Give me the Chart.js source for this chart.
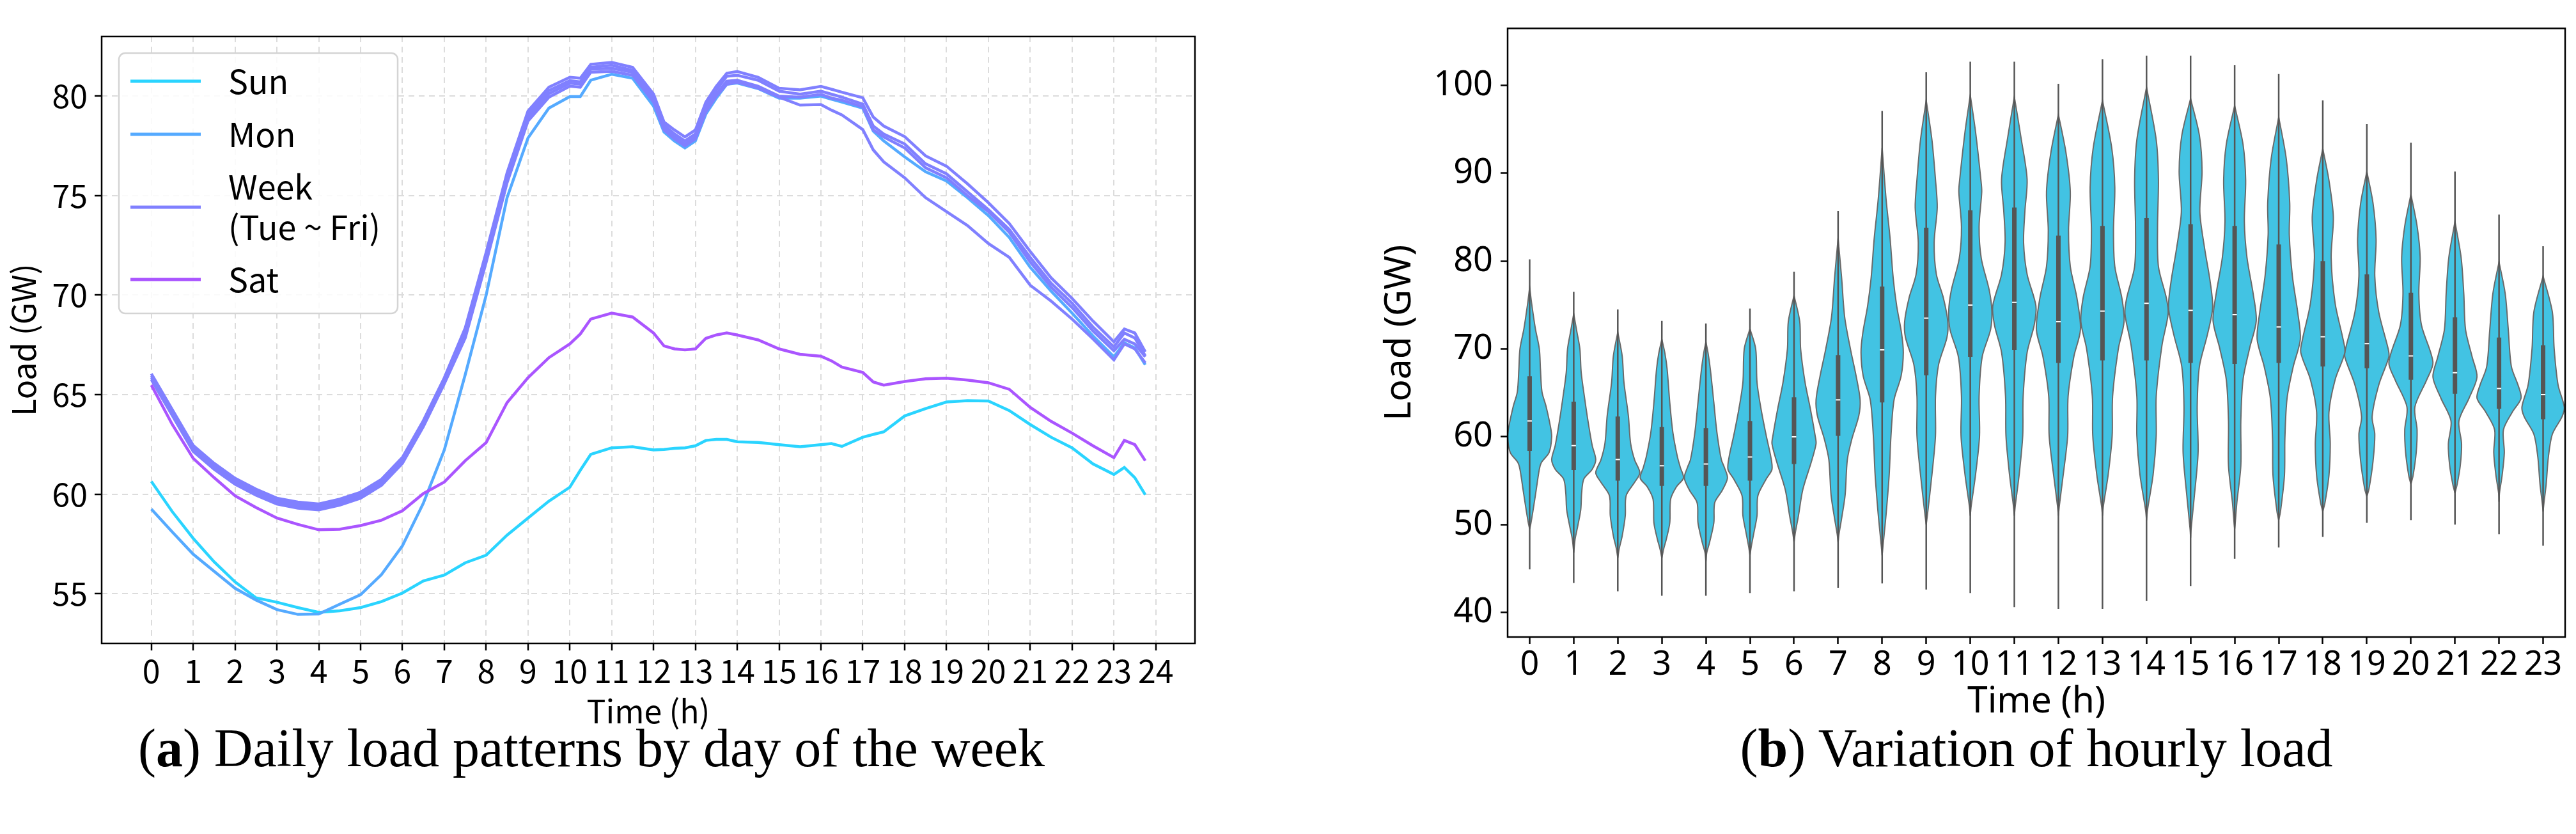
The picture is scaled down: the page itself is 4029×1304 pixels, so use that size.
<!DOCTYPE html>
<html><head><meta charset="utf-8">
<script src="https://cdn.jsdelivr.net/npm/chart.js@4.4.0/dist/chart.umd.min.js"></script>
<style>
html,body{margin:0;padding:0;background:#fff;width:4029px;height:1304px;overflow:hidden;}
#wa{position:absolute;left:0;top:0;width:1900px;height:1160px;}
#wb{position:absolute;left:2130px;top:0;width:1899px;height:1160px;}
.cap{position:absolute;top:1120px;line-height:100px;font-family:'Liberation Serif',serif;font-size:84px;color:#000;white-space:nowrap;transform:translateX(-50%);}
</style></head><body>
<div id="wa"><canvas id="ca"></canvas></div>
<div id="wb"><canvas id="cb"></canvas></div>
<div class="cap" style="left:925px">(<b>a</b>) Daily load patterns by day of the week</div>
<div class="cap" style="left:3185px">(<b>b</b>) Variation of hourly load</div>
<script>
// ---------- Panel (a) data ----------
const times = [0,0.5,1,1.5,2,2.5,3,3.5,4,4.5,5,5.5,6,6.5,7,7.5,8,8.5,9,9.5,10,10.25,10.5,11,11.5,12,12.25,12.5,12.75,13,13.25,13.5,13.75,14,14.5,15,15.5,16,16.25,16.5,17,17.25,17.5,18,18.5,19,19.5,20,20.5,21,21.5,22,22.5,23,23.25,23.5,23.75];
const sunLoad = [60.64,59.12,57.78,56.6,55.59,54.79,54.57,54.3,54.06,54.14,54.3,54.6,55.03,55.64,55.93,56.55,56.93,57.94,58.8,59.65,60.35,61.2,62.0,62.33,62.38,62.22,62.25,62.3,62.33,62.43,62.7,62.75,62.75,62.63,62.6,62.49,62.38,62.49,62.54,62.4,62.86,63.0,63.13,63.93,64.3,64.63,64.7,64.68,64.2,63.5,62.86,62.33,61.52,60.99,61.34,60.83,59.97];
const monLoad = [59.25,58.1,56.98,56.12,55.27,54.68,54.2,53.96,53.98,54.47,54.95,55.96,57.41,59.55,62.22,66.0,70.0,74.9,77.9,79.4,79.98,79.98,80.8,81.1,80.9,79.5,78.2,77.75,77.4,77.75,79.1,79.9,80.6,80.66,80.38,79.9,79.9,80.0,79.85,79.7,79.4,78.25,77.75,76.95,76.2,75.74,74.9,74.0,72.9,71.4,70.2,69.1,67.95,66.9,67.6,67.35,66.5];
const tueLoad = [66.05,64.25,62.45,61.55,60.8,60.25,59.8,59.6,59.51,59.75,60.1,60.75,61.85,63.7,65.85,68.35,72.15,76.15,79.25,80.45,80.95,80.9,81.6,81.7,81.45,80.1,78.7,78.3,77.95,78.3,79.7,80.5,81.15,81.24,80.95,80.4,80.32,80.49,80.35,80.2,79.92,78.95,78.5,77.97,77.0,76.48,75.6,74.65,73.6,72.2,70.87,69.84,68.7,67.66,68.3,68.1,67.15];
const wedLoad = [65.95,64.15,62.35,61.45,60.7,60.15,59.7,59.5,59.41,59.65,60.0,60.65,61.75,63.6,65.75,68.18,71.98,75.98,79.08,80.28,80.78,80.72,81.45,81.55,81.3,79.95,78.55,78.1,77.75,78.1,79.5,80.3,81.0,81.05,80.8,80.25,80.1,80.25,80.1,79.95,79.6,78.5,78.1,77.6,76.6,76.1,75.2,74.3,73.3,71.9,70.6,69.6,68.4,67.4,68.1,67.85,66.95];
const thuLoad = [65.85,64.05,62.25,61.35,60.6,60.05,59.6,59.4,59.31,59.55,59.9,60.55,61.65,63.5,65.65,68.02,71.82,75.82,78.92,80.12,80.65,80.6,81.35,81.4,81.2,79.8,78.4,77.95,77.6,77.95,79.35,80.1,80.75,80.8,80.5,80.0,79.95,80.09,79.9,79.8,79.46,78.3,77.95,77.4,76.4,75.9,75.0,74.2,73.16,71.67,70.4,69.38,68.2,67.2,67.78,67.55,66.9];
const friLoad = [65.75,63.95,62.15,61.25,60.5,59.95,59.5,59.3,59.21,59.45,59.8,60.45,61.55,63.4,65.55,67.85,71.65,75.65,78.75,79.95,80.5,80.45,81.2,81.25,81.05,79.7,78.3,77.85,77.5,77.85,79.2,80.0,80.6,80.7,80.4,79.95,79.55,79.58,79.3,79.06,78.32,77.3,76.7,75.9,74.9,74.2,73.5,72.6,71.9,70.5,69.7,68.8,67.8,66.75,67.55,67.3,66.6];
const satLoad = [65.48,63.5,61.8,60.83,59.92,59.33,58.8,58.48,58.21,58.24,58.42,58.69,59.17,60.03,60.61,61.68,62.59,64.6,65.85,66.86,67.55,68.05,68.8,69.1,68.9,68.1,67.45,67.3,67.25,67.3,67.83,68.0,68.1,68.0,67.75,67.3,67.03,66.93,66.7,66.39,66.12,65.64,65.48,65.66,65.8,65.83,65.73,65.6,65.27,64.36,63.66,63.07,62.43,61.84,62.7,62.49,61.68];
const dayNames = ['Sun','Mon','Tue','Wed','Thu','Fri','Sat'];
const legendLabels = ['Sun','Mon',['Week','(Tue ~ Fri)'],'Sat'];
const xTicksA = [0,1,2,3,4,5,6,7,8,9,10,11,12,13,14,15,16,17,18,19,20,21,22,23,24];
const yTicksA = [55,60,65,70,75,80];

// ---------- Panel (b) data ----------
const hoursB = [0,1,2,3,4,5,6,7,8,9,10,11,12,13,14,15,16,17,18,19,20,21,22,23];
const whiskerLo = [44.9,43.35,42.4,41.9,41.9,42.2,42.4,42.8,43.3,42.6,42.2,40.6,40.4,40.4,41.3,43.0,46.1,47.4,48.6,50.2,50.5,50.0,48.9,47.6];
const whiskerHi = [80.2,76.5,74.5,73.2,72.9,74.6,78.8,85.7,97.1,101.5,102.7,102.7,100.2,103.0,103.4,103.4,102.3,101.3,98.3,95.6,93.5,90.2,85.3,81.7];
const quart1 = [58.4,56.2,55.0,54.4,54.4,55.0,56.9,60.1,63.9,67.0,69.1,69.9,68.4,68.7,68.7,68.4,68.3,68.4,68.0,67.8,66.5,64.9,63.2,62.0];
const quart3 = [66.9,64.0,62.3,61.1,61.0,61.8,64.5,69.3,77.1,83.8,85.8,86.1,82.9,84.0,84.9,84.2,84.0,81.9,80.0,78.5,76.4,73.6,71.3,70.4];
const medians = [61.8,59.0,57.4,56.7,56.9,57.7,60.0,64.2,69.9,73.5,75.0,75.3,73.1,74.3,75.2,74.4,73.9,72.5,71.4,70.6,69.2,67.3,65.5,64.8];
// violin outline per hour: [load GW, half-width in hours]
const violinProfiles = [
 [[49.5,0],[50.2,0.03],[51.7,0.08],[54,0.15],[56.3,0.22],[57.1,0.27],[58.2,0.44],[60,0.5],[61.2,0.47],[63.5,0.37],[65.1,0.28],[67.7,0.245],[70,0.22],[72.3,0.13],[75,0.05],[77,0]],
 [[46.8,0],[48.3,0.03],[49.8,0.09],[51.7,0.16],[53.6,0.18],[55.2,0.23],[56.3,0.42],[57.4,0.5],[59,0.42],[61.6,0.33],[64.3,0.25],[67.3,0.17],[70,0.14],[72,0.07],[74,0]],
 [[46.2,0],[47.2,0.03],[48.7,0.1],[51,0.17],[53.3,0.19],[54.8,0.38],[55.9,0.5],[57.4,0.38],[59.3,0.29],[62.4,0.24],[66.2,0.14],[69.2,0.1],[71.9,0]],
 [[46.2,0],[47.2,0.04],[48.3,0.1],[50.2,0.18],[52.9,0.2],[54.3,0.33],[55.3,0.49],[56.5,0.42],[57.8,0.35],[60.5,0.25],[63.9,0.18],[67.7,0.12],[69.5,0.07],[71.1,0]],
 [[45.8,0],[46.8,0.02],[47.9,0.08],[50.2,0.18],[52.5,0.2],[53.9,0.37],[55.3,0.49],[56.5,0.42],[57.4,0.35],[60.5,0.25],[63.9,0.18],[67.7,0.1],[69.5,0.05],[70.8,0]],
 [[46.5,0],[47.5,0.03],[49.1,0.09],[51,0.16],[53.3,0.18],[55.2,0.37],[56.3,0.5],[57.8,0.47],[60.1,0.37],[63.2,0.25],[66.2,0.16],[70,0.13],[72.3,0]],
 [[48,0],[49.1,0.03],[51,0.1],[54,0.2],[57.1,0.39],[59.2,0.5],[60.1,0.48],[63.2,0.37],[66.2,0.25],[70,0.15],[73.1,0.13],[76.1,0]],
 [[48,0],[48.9,0.02],[50.7,0.08],[53.4,0.16],[57.4,0.21],[59.7,0.31],[62.4,0.47],[64.2,0.5],[66.9,0.41],[70,0.28],[73.6,0.15],[78.1,0.08],[82.6,0]],
 [[46.5,0],[47.6,0.02],[51.2,0.09],[55.7,0.16],[60.1,0.2],[64.2,0.27],[66.9,0.43],[69.6,0.48],[71.8,0.44],[74.9,0.33],[78.1,0.25],[82.6,0.18],[87,0.09],[92.9,0]],
 [[50,0],[51.2,0.03],[55.7,0.13],[60.1,0.21],[64.6,0.21],[68.2,0.28],[71.3,0.47],[73.1,0.49],[75.8,0.39],[78.5,0.23],[82.1,0.18],[86.1,0.25],[89.3,0.21],[93.8,0.13],[98.3,0]],
 [[51,0],[52.1,0.02],[55.7,0.12],[60.1,0.21],[64.6,0.2],[69.1,0.27],[72.2,0.46],[74.3,0.49],[76.7,0.43],[80.3,0.25],[83.9,0.2],[87.9,0.26],[89.3,0.24],[94.7,0.12],[98.9,0]],
 [[51,0],[52.1,0.02],[55.7,0.11],[60.1,0.19],[64.6,0.2],[69.6,0.29],[72.7,0.45],[74.9,0.49],[78.5,0.29],[82.1,0.21],[85.7,0.24],[89.3,0.29],[93.8,0.16],[98.7,0]],
 [[51,0],[52.1,0.02],[55.7,0.11],[60.1,0.21],[64.6,0.22],[69.1,0.35],[72.2,0.5],[75.8,0.42],[79.4,0.27],[83.5,0.23],[87.9,0.27],[92.4,0.17],[96.7,0]],
 [[51,0],[52.1,0.02],[55.7,0.13],[60.1,0.22],[64.6,0.23],[70,0.36],[73.1,0.49],[75.8,0.44],[79.4,0.28],[83.5,0.25],[88.4,0.28],[92.9,0.21],[98.3,0]],
 [[50.5,0],[51.6,0.02],[55.7,0.15],[60.1,0.22],[64.6,0.22],[70.4,0.35],[74,0.49],[75.8,0.45],[79.4,0.27],[83.9,0.25],[89.3,0.27],[93.8,0.22],[99.8,0]],
 [[48.5,0],[49.4,0.01],[53,0.08],[58.2,0.17],[63.4,0.15],[68,0.2],[71.6,0.38],[74.7,0.5],[77.8,0.44],[81.4,0.32],[85.6,0.21],[90.2,0.26],[94.3,0.2],[98.5,0]],
 [[49.5,0],[50,0.01],[52.5,0.05],[56.7,0.14],[61.8,0.14],[66.5,0.19],[70.1,0.34],[73.2,0.49],[76.3,0.42],[80.4,0.28],[84.5,0.22],[89.2,0.25],[93.3,0.19],[97.7,0]],
 [[50.5,0],[51.5,0.04],[55.6,0.13],[59.8,0.14],[64.4,0.19],[68,0.33],[71.1,0.49],[74.2,0.43],[78.3,0.31],[83,0.24],[86.6,0.25],[91.7,0.17],[96.4,0]],
 [[51.5,0],[52.5,0.05],[55.6,0.14],[59.2,0.17],[62.8,0.14],[66.5,0.28],[69.6,0.5],[71.1,0.46],[75.2,0.28],[80.4,0.19],[85,0.24],[89.2,0.14],[92.8,0]],
 [[53.2,0],[54.1,0.05],[57.2,0.14],[60.3,0.18],[62.3,0.12],[65.9,0.27],[69.1,0.5],[70.1,0.48],[74.2,0.27],[78.3,0.18],[82.5,0.21],[86.6,0.14],[90.2,0]],
 [[54.6,0],[55.6,0.05],[58.2,0.12],[60.8,0.14],[63.4,0.09],[66.5,0.36],[68.5,0.5],[72.7,0.24],[76.3,0.18],[80.4,0.21],[84,0.14],[87.6,0]],
 [[53.6,0],[54.6,0.05],[56.7,0.12],[59.2,0.15],[61.8,0.09],[64.4,0.32],[66.8,0.5],[69.1,0.39],[72.2,0.24],[76.3,0.2],[80.4,0.14],[84.5,0]],
 [[52.6,0],[53.6,0.01],[55.6,0.07],[58.2,0.12],[60.8,0.1],[62.8,0.3],[64.4,0.5],[65.9,0.43],[68,0.28],[72.2,0.21],[76.3,0.14],[79.9,0]],
 [[51.5,0],[52.5,0.02],[54.6,0.07],[57.7,0.12],[60.3,0.21],[62.3,0.43],[63.4,0.48],[65.9,0.34],[70.1,0.25],[74.2,0.21],[78.3,0]]
];
const yTicksB = [40,50,60,70,80,90,100];

// ---------- styles ----------
const dayColors = ['#2ad4ff','#55aaff','#8080ff','#8080ff','#8080ff','#8080ff','#aa55ff'];
const legendColors = ['#2ad4ff','#55aaff','#8080ff','#aa55ff'];
const fontA = "'Noto Sans CJK KR', 'Noto Sans', sans-serif";
const fontB = "'Noto Sans', 'Noto Sans CJK KR', sans-serif";

Chart.defaults.animation = false;
Chart.defaults.color = '#000';

const framePlugin = {
  id: 'frame',
  afterDatasetsDraw(chart) {
    const {ctx, chartArea: a} = chart;
    ctx.save();
    ctx.strokeStyle = '#000';
    ctx.lineWidth = 2.5;
    ctx.strokeRect(a.left, a.top, a.right - a.left, a.bottom - a.top);
    ctx.restore();
  }
};

const legendPlugin = {
  id: 'legendA',
  afterDraw(chart) {
    const {ctx, chartArea: a} = chart;
    const x0 = a.left + 27, y0 = a.top + 26, w = 436, h = 407;
    ctx.save();
    ctx.beginPath();
    ctx.roundRect(x0, y0, w, h, 10);
    ctx.fillStyle = 'rgba(255,255,255,0.85)';
    ctx.fill();
    ctx.strokeStyle = '#d4d4d4';
    ctx.lineWidth = 2.5;
    ctx.stroke();
    const rowY = [44, 127, 241, 354];   // centre of each entry (relative to box top)
    ctx.font = '52px ' + fontA;
    ctx.textBaseline = 'middle';
    ctx.fillStyle = '#000';
    legendLabels.forEach((lab, i) => {
      const cy = y0 + rowY[i];
      ctx.strokeStyle = legendColors[i];
      ctx.lineWidth = 5;
      ctx.beginPath();
      ctx.moveTo(x0 + 18, cy);
      ctx.lineTo(x0 + 128, cy);
      ctx.stroke();
      const lines = Array.isArray(lab) ? lab : [lab];
      const lh = 63;
      lines.forEach((t, j) => {
        ctx.fillText(t, x0 + 171, cy + (j - (lines.length - 1) / 2) * lh);
      });
    });
    ctx.restore();
  }
};

// ---------- chart (a) ----------
const series = [sunLoad, monLoad, tueLoad, wedLoad, thuLoad, friLoad, satLoad];
const dsA = series.map((arr, k) => ({
  label: dayNames[k],
  data: times.map((t, i) => ({x: t, y: arr[i]})),
  borderColor: dayColors[k],
  backgroundColor: dayColors[k],
  borderWidth: 4.5,
  pointRadius: 0,
  tension: 0,
  fill: false,
  order: 7 - k
}));

new Chart(document.getElementById('ca'), {
  type: 'line',
  data: {datasets: dsA},
  options: {
    responsive: true, maintainAspectRatio: false, devicePixelRatio: 1,
    events: [],
    layout: {padding: {top: 57, right: 31, left: 0, bottom: 0}},
    plugins: {legend: {display: false}, tooltip: {enabled: false}},
    scales: {
      x: {
        type: 'linear', min: -1.1875, max: 24.9375,
        afterBuildTicks: s => { s.ticks = xTicksA.map(v => ({value: v})); },
        afterFit: s => { s.height = 154; },
        ticks: {font: {family: fontA, size: 50}, color: '#000', padding: 2, maxRotation: 0, autoSkip: false},
        title: {display: true, text: 'Time (h)', font: {family: fontA, size: 50}, color: '#000', padding: {top: 0, bottom: 18}},
        grid: {color: '#dcdcdc', lineWidth: 2, borderDash: [9, 7], tickLength: 11, tickColor: '#000', tickWidth: 2.5, tickBorderDash: []},
        border: {display: false, dash: [9, 7]}
      },
      y: {
        type: 'linear', min: 52.5, max: 83.0,
        afterBuildTicks: s => { s.ticks = yTicksA.map(v => ({value: v})); },
        afterFit: s => { s.width = 159; },
        ticks: {font: {family: fontA, size: 50}, color: '#000', padding: 11},
        title: {display: true, text: 'Load (GW)', font: {family: fontA, size: 50}, color: '#000', padding: {top: 7, bottom: 0}},
        grid: {color: '#dcdcdc', lineWidth: 2, borderDash: [9, 7], tickLength: 11, tickColor: '#000', tickWidth: 2.5, tickBorderDash: []},
        border: {display: false, dash: [9, 7]}
      }
    }
  },
  plugins: [framePlugin, legendPlugin]
});

// ---------- chart (b) ----------
const dsB = [];
violinProfiles.forEach((prof, i) => {
  const h = hoursB[i];
  const right = prof.map(p => ({x: h + p[1], y: p[0]}));
  const left = prof.slice().reverse().map(p => ({x: h - p[1], y: p[0]}));
  dsB.push({
    label: 'violin ' + h,
    data: right.concat(left),
    fill: 'shape',
    backgroundColor: '#42c3e3',
    borderColor: '#6a6a6a',
    borderWidth: 2,
    pointRadius: 0,
    tension: 0.3,
    order: 4
  });
});
const whiskerPts = [], boxPts = [];
hoursB.forEach((h, i) => {
  whiskerPts.push({x: h, y: whiskerLo[i]}, {x: h, y: whiskerHi[i]}, {x: h, y: null});
  boxPts.push({x: h, y: quart1[i]}, {x: h, y: quart3[i]}, {x: h, y: null});
});
dsB.push({label: 'whisker', data: whiskerPts, borderColor: '#555555', borderWidth: 2.5, pointRadius: 0, spanGaps: false, fill: false, order: 3});
dsB.push({label: 'box', data: boxPts, borderColor: '#555555', borderWidth: 7, borderCapStyle: 'butt', pointRadius: 0, spanGaps: false, fill: false, order: 2});
dsB.push({label: 'median', data: hoursB.map((h, i) => ({x: h, y: medians[i]})), showLine: false, pointStyle: 'line', pointRadius: 3.5, pointBorderColor: '#ffffff', pointBorderWidth: 2, order: 1});

new Chart(document.getElementById('cb'), {
  type: 'line',
  data: {datasets: dsB},
  options: {
    responsive: true, maintainAspectRatio: false, devicePixelRatio: 1,
    events: [],
    layout: {padding: {top: 10, right: 17, left: 0, bottom: 0}},
    plugins: {legend: {display: false}, tooltip: {enabled: false}},
    scales: {
      x: {
        type: 'linear', min: -0.5, max: 23.5,
        afterBuildTicks: s => { s.ticks = hoursB.map(v => ({value: v})); },
        afterFit: s => { s.height = 164; },
        ticks: {font: {family: fontB, size: 52}, color: '#000', padding: 2, maxRotation: 0, autoSkip: false},
        title: {display: true, text: 'Time (h)', font: {family: fontB, size: 57}, color: '#000', padding: {top: 0, bottom: 28}},
        grid: {drawOnChartArea: false, tickLength: 11, tickColor: '#000', tickWidth: 2.5},
        border: {display: false}
      },
      y: {
        type: 'linear', min: 37.2, max: 106.5,
        afterBuildTicks: s => { s.ticks = yTicksB.map(v => ({value: v})); },
        afterFit: s => { s.width = 228; },
        ticks: {font: {family: fontB, size: 54}, color: '#000', padding: 12},
        title: {display: true, text: 'Load (GW)', font: {family: fontB, size: 57}, color: '#000', padding: {top: 26, bottom: 0}},
        grid: {drawOnChartArea: false, tickLength: 11, tickColor: '#000', tickWidth: 2.5},
        border: {display: false}
      }
    }
  },
  plugins: [framePlugin]
});
</script>
</body></html>
